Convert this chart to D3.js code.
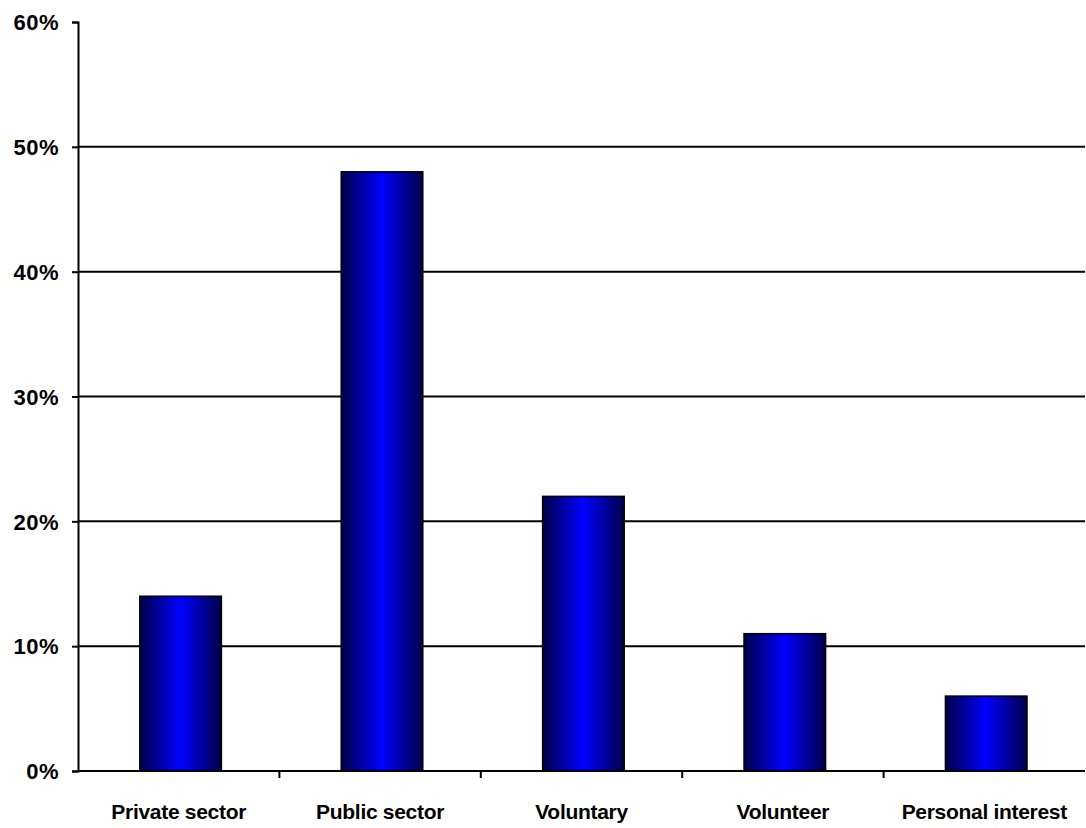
<!DOCTYPE html>
<meta charset="utf-8">
<style>
body { margin: 0; background: #fff; }
svg text { font-family: "Liberation Sans", Arial, sans-serif; font-weight: bold; fill: #000; }
</style>
<svg width="1086" height="828"></svg>
<script src="https://d3js.org/d3.v7.min.js"></script>
<script>
    const categories = ["Private sector", "Public sector", "Voluntary", "Volunteer", "Personal interest"];
    const values = [14, 48, 22, 11, 6];
    const yTicks = [0, 10, 20, 30, 40, 50, 60];

    var svg = d3.select("svg"),
    margin = {top: 22, right: 1, bottom: 57, left: 78},
    width = +svg.attr("width") - margin.left - margin.right,
    height = +svg.attr("height") - margin.top - margin.bottom,
    g = svg.append("g").attr("transform", "translate(" + margin.left + "," + margin.top + ")");

    // bar gradient: dark edges, bright blue middle
    var grad = svg.append("defs").append("linearGradient")
    .attr("id", "barGrad")
    .attr("x1", "0%").attr("x2", "100%").attr("y1", "0%").attr("y2", "0%");
    grad.append("stop").attr("offset", "0%").attr("stop-color", "#000048");
    grad.append("stop").attr("offset", "50%").attr("stop-color", "#0000ff");
    grad.append("stop").attr("offset", "100%").attr("stop-color", "#000048");

    var band = d3.scaleBand().domain(categories).range([0, width]);

    var y = d3.scaleLinear()
    .domain([0, 60])
    .range([height, 0]);

    // gridlines
    g.selectAll(".grid")
    .data(yTicks.filter(function(d) { return d > 0 && d < 60; }))
    .enter().append("line")
    .attr("x1", 0).attr("x2", width)
    .attr("y1", function(d) { return y(d); })
    .attr("y2", function(d) { return y(d); })
    .attr("stroke", "#000")
    .attr("stroke-width", 2);

    // y axis
    var yAxis = g.append("g")
    .call(d3.axisLeft(y).tickValues(yTicks).tickSize(6).tickPadding(13)
        .tickFormat(function(d) { return d + "%"; }));
    yAxis.select(".domain").attr("stroke-width", 2);
    yAxis.selectAll(".tick line").attr("stroke-width", 2);
    yAxis.selectAll("text").style("font-size", "22px").style("font-family", "Liberation Sans, Arial, sans-serif")
    .style("letter-spacing", "0.5px").attr("dy", "0.35em");

    // bars
    g.selectAll(".bar")
    .data(values)
    .enter().append("rect")
    .attr("x", function(d, i) { return band(categories[i]) + band.bandwidth() * 0.307; })
    .attr("width", band.bandwidth() * 0.405)
    .attr("y", function(d) { return y(d); })
    .attr("height", function(d) { return height - y(d); })
    .attr("fill", "url(#barGrad)")
    .attr("stroke", "#000")
    .attr("stroke-width", 1.5);

    // x axis
    var xg = g.append("g").attr("transform", "translate(0," + height + ")");
    xg.append("line").attr("x1", 0).attr("x2", width).attr("stroke", "#000").attr("stroke-width", 2);
    xg.selectAll(".tk")
    .data(categories.slice(1))
    .enter().append("line")
    .attr("x1", function(d) { return band(d); })
    .attr("x2", function(d) { return band(d); })
    .attr("y1", 0).attr("y2", 7)
    .attr("stroke", "#000").attr("stroke-width", 2);
    xg.selectAll(".lbl")
    .data(categories)
    .enter().append("text")
    .attr("x", function(d) { return band(d) + band.bandwidth() / 2; })
    .attr("y", 48)
    .attr("text-anchor", "middle")
    .style("font-size", "21px")
    .style("letter-spacing", "-0.3px")
    .text(function(d) { return d; });
</script>
